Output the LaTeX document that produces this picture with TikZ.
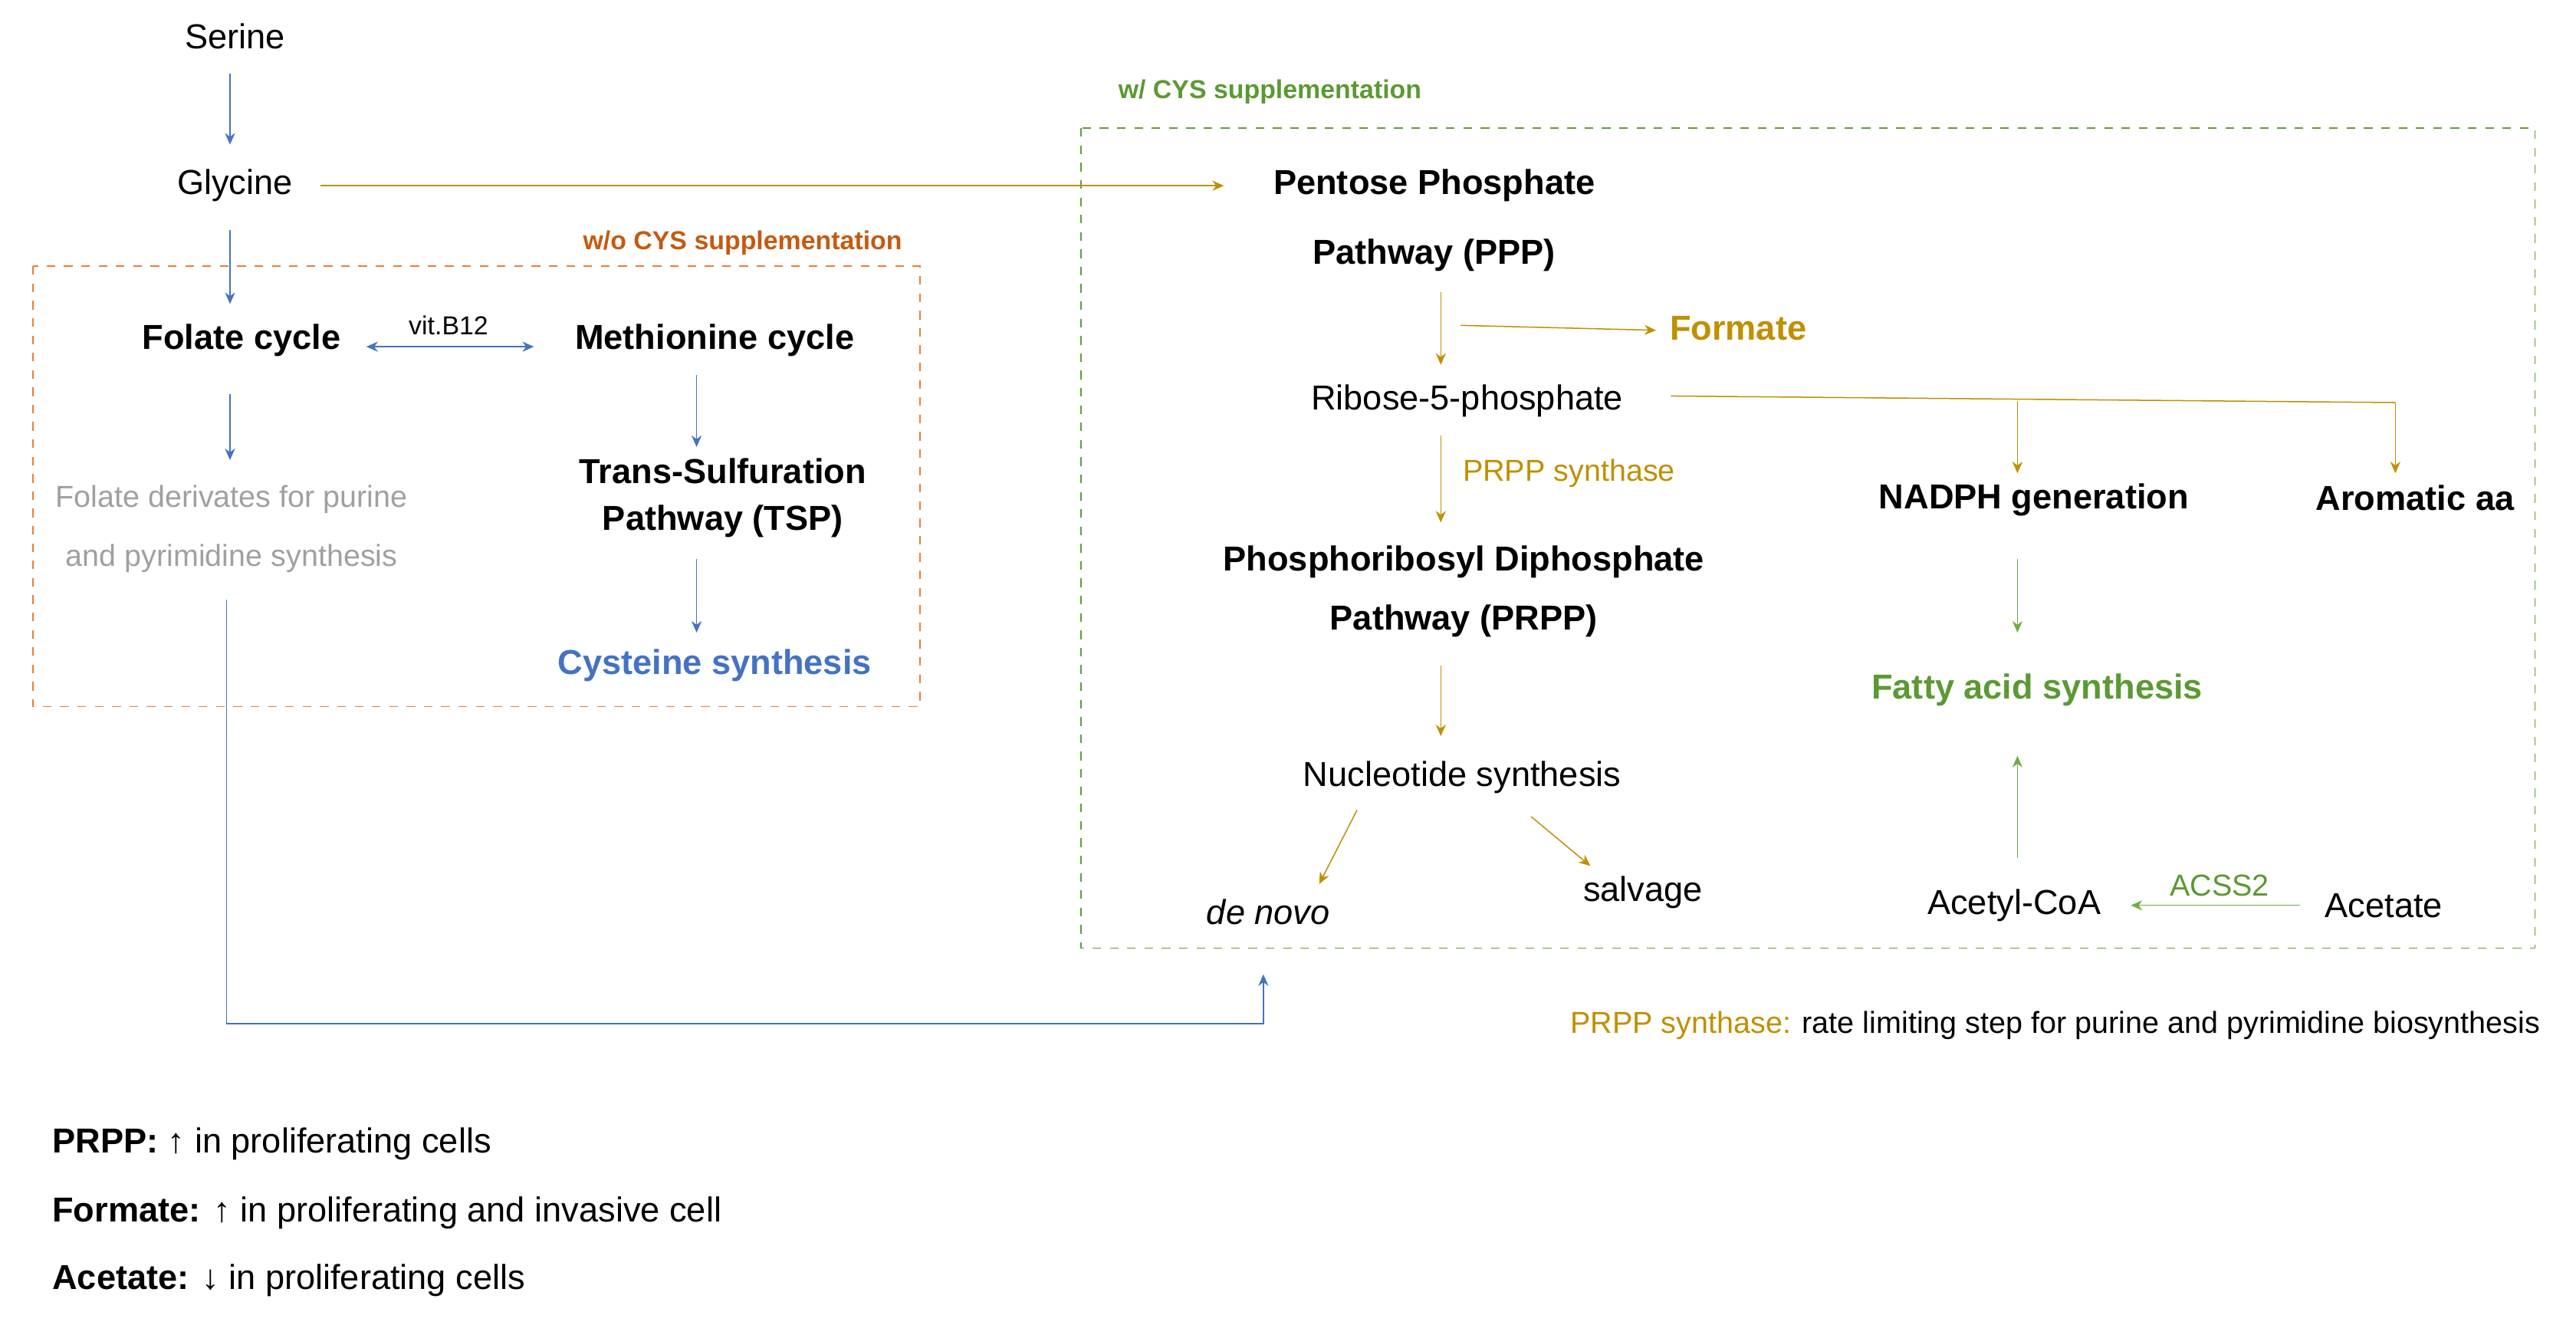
\documentclass[tikz,border=0pt]{standalone}
\usepackage{fontspec}
\setmainfont{Liberation Sans}
\usetikzlibrary{arrows.meta}
\definecolor{cblue}{HTML}{4472C4}
\definecolor{cgold}{HTML}{BF9000}
\definecolor{corange}{HTML}{ED7D31}
\definecolor{cred}{HTML}{C55A11}
\definecolor{cgreen}{HTML}{70AD47}
\definecolor{cdgreen}{HTML}{5B9A32}
\definecolor{cgray}{HTML}{A0A0A0}
\tikzset{
  lbl/.style={font=\fontsize{12}{14}\selectfont, inner sep=2pt},
  blbl/.style={lbl, font=\fontsize{12}{14}\selectfont\bfseries},
  small/.style={font=\fontsize{9}{10}\selectfont, inner sep=1pt},
  barrow/.style={-{Stealth[length=4pt,width=3.5pt]}, cblue, thin},
  garrow/.style={-{Stealth[length=4pt,width=3.5pt]}, cgold, thin},
  grarrow/.style={-{Stealth[length=4pt,width=3.5pt]}, cgreen, thin},
}
\begin{document}
\begin{tikzpicture}[x=0.02cm, y=-0.02cm]
	\useasboundingbox (0,0) rectangle (1568,806);

	% left part
	\node[lbl] (ser) at (143,22) {Serine};
	\node[lbl] (gly) at (143,113) {Glycine};
	\node[blbl] (fol) at (147,207) {Folate cycle};
	\node[blbl] (met) at (435,207) {Methionine cycle};
	\node[small] (vit) at (273,198) {vit.B12};
	\node[blbl, align=center, font=\fontsize{12}{16}\selectfont\bfseries] (tsp) at (440,303) {Trans-Sulfuration\\Pathway (TSP)};
	\node[blbl, text=cblue] (cys) at (435,405) {Cysteine synthesis};
	\node[lbl, text=cgray, align=center, font=\fontsize{10.5}{20.5}\selectfont] (fd) at (141,322) {Folate derivates for purine\\and pyrimidine synthesis};

	\draw[corange, dashed] (20,162) rectangle (560,430);
	\node[small, text=cred, font=\fontsize{9}{10}\selectfont\bfseries] (wo) at (452,148) {w/o CYS supplementation};

	\draw[barrow] (140,45) -- (140,88);
	\draw[barrow] (140,140) -- (140,185);
	\draw[barrow] (140,240) -- (140,280);
	\draw[{Stealth[length=4pt,width=3.5pt]}-{Stealth[length=4pt,width=3.5pt]}, cblue, thin] (223,211) -- (325,211);
	\draw[barrow] (424,228) -- (424,272);
	\draw[barrow] (424,340) -- (424,385);

	% right part
	\draw[cdgreen!80!cgreen, dashed] (658,78) rectangle (1543,577);
	\node[small, text=cdgreen, font=\fontsize{9}{10}\selectfont\bfseries] (w) at (773,56) {w/ CYS supplementation};

	\node[blbl, align=center, font=\fontsize{12}{24}\selectfont\bfseries] (ppp) at (873,134) {Pentose Phosphate\\Pathway (PPP)};
	\node[blbl, text=cgold] (form) at (1058,200) {Formate};
	\node[lbl] (rib) at (893,244) {Ribose-5-phosphate};
	\node[small, text=cgold, font=\fontsize{10.5}{12}\selectfont] (ps) at (955,288) {PRPP synthase};
	\node[blbl] (nadph) at (1238,304) {NADPH generation};
	\node[blbl] (arom) at (1470,303) {Aromatic aa};
	\node[blbl, align=center, font=\fontsize{12}{20.5}\selectfont\bfseries] (prpp) at (891,360) {Phosphoribosyl Diphosphate\\Pathway (PRPP)};
	\node[lbl] (nuc) at (890,473) {Nucleotide synthesis};
	\node[lbl, font=\fontsize{12}{14}\selectfont\itshape] (dn) at (772,555) {de novo};
	\node[lbl] (salv) at (1000,543) {salvage};
	\node[blbl, text=cdgreen] (fa) at (1240,420) {Fatty acid synthesis};
	\node[lbl] (acoa) at (1226,551) {Acetyl-CoA};
	\node[lbl] (acet) at (1451,551) {Acetate};
	\node[small, text=cdgreen, font=\fontsize{10.5}{12}\selectfont] (acss) at (1351,539) {ACSS2};

	\draw[garrow] (195,113) -- (745,113);
	\draw[garrow] (877,178) -- (877,222);
	\draw[garrow] (889,198) -- (1008,201);
	\draw[garrow] (877,265) -- (877,318);
	\draw[cgold, thin] (1017,241) -- (1458,245);
	\draw[garrow] (1228,244) -- (1228,288);
	\draw[garrow] (1458,245) -- (1458,288);
	\draw[garrow] (877,405) -- (877,448);
	\draw[garrow] (826,493) -- (803,538);
	\draw[garrow] (932,497) -- (968,527);
	\draw[grarrow] (1228,340) -- (1228,385);
	\draw[grarrow] (1228,522) -- (1228,460);
	\draw[grarrow] (1400,551) -- (1297,551);

	\draw[barrow] (138,365) -- (138,623) -- (769,623) -- (769,593);

	% notes
	\node[lbl, anchor=east, font=\fontsize{10.5}{12}\selectfont] (note) at (1550,624) {\textcolor{cgold}{PRPP synthase:} rate limiting step for purine and pyrimidine biosynthesis};
	\node[lbl, anchor=west] (n1) at (28,696) {\textbf{PRPP:} ↑ in proliferating cells};
	\node[lbl, anchor=west] (n2) at (28,738) {\textbf{Formate:} ↑ in proliferating and invasive cell};
	\node[lbl, anchor=west] (n3) at (28,779) {\textbf{Acetate:} ↓ in proliferating cells};
\end{tikzpicture}
\end{document}
